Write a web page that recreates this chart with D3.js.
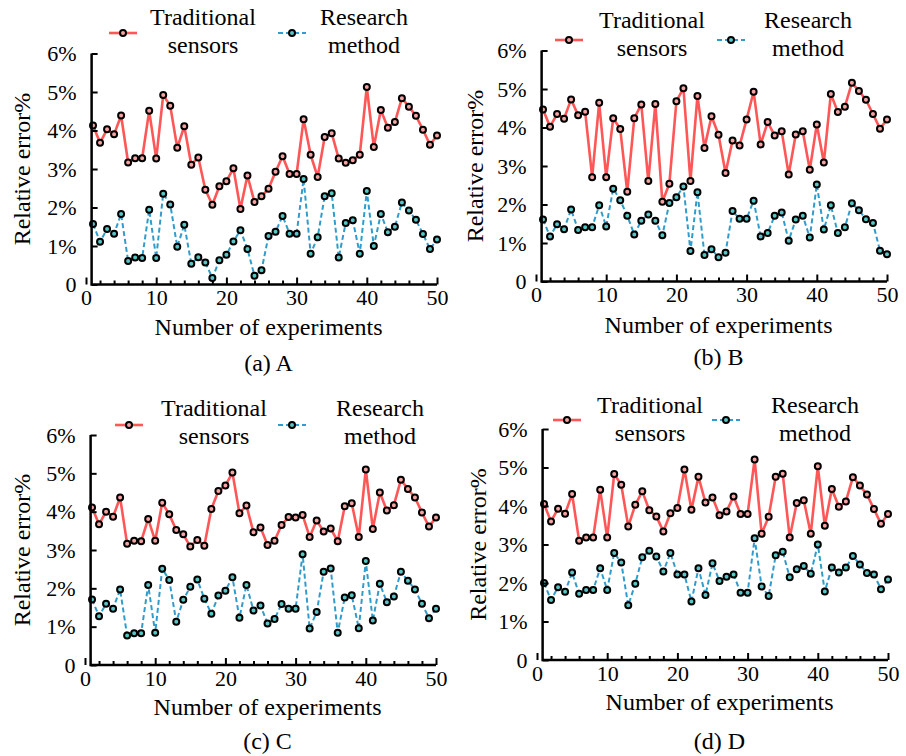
<!DOCTYPE html>
<html>
<head>
<meta charset="utf-8">
<script src="https://cdn.jsdelivr.net/npm/d3@7"></script>
<style>
  body { margin: 0; background: #fff; }
</style>
</head>
<body>
<div id="chart"></div>
<script>
// Experiment numbers and axis ticks
const experiments = d3.range(1, 51);
const xTickValues = [0, 10, 20, 30, 40, 50];
const xMinorTicks = [2, 4, 6, 8, 12, 14, 16, 18, 22, 24, 26, 28, 32, 34, 36, 38, 42, 44, 46, 48];
const yTickValues = [0, 1, 2, 3, 4, 5, 6];
const yTickLabels = ["0", "1%", "2%", "3%", "4%", "5%", "6%"];
const legendLines = [["Traditional", "sensors"], ["Research", "method"]];
const captions = ["(a) A", "(b) B", "(c) C", "(d) D"];

// Relative error (%)
const traditionalA = [4.13, 3.68, 4.03, 3.90, 4.39, 3.17, 3.28, 3.28, 4.51, 3.27, 4.92, 4.64, 3.55, 4.11, 3.11, 3.30, 2.46, 2.07, 2.55, 2.68,
  3.02, 1.96, 2.83, 2.14, 2.29, 2.49, 2.93, 3.33, 2.87, 2.87, 4.29, 3.37, 2.79, 3.83, 3.93, 3.27, 3.16, 3.23, 3.37, 5.13,
  3.57, 4.53, 4.07, 4.22, 4.84, 4.62, 4.38, 4.02, 3.63, 3.87];
const researchA = [1.57, 1.11, 1.44, 1.32, 1.83, 0.61, 0.70, 0.69, 1.94, 0.69, 2.36, 2.08, 0.98, 1.55, 0.54, 0.71, 0.57, 0.17, 0.63, 0.77,
  1.12, 1.41, 0.92, 0.23, 0.37, 1.26, 1.37, 1.78, 1.32, 1.32, 2.74, 0.80, 1.23, 2.29, 2.37, 0.70, 1.60, 1.67, 0.80, 2.43,
  1.00, 1.83, 1.36, 1.50, 2.13, 1.92, 1.68, 1.31, 0.92, 1.17];

const traditionalB = [4.47, 4.02, 4.35, 4.23, 4.73, 4.32, 4.41, 2.71, 4.64, 2.71, 4.24, 3.96, 2.33, 4.24, 4.60, 2.61, 4.61, 2.07, 2.54, 4.68,
  5.02, 2.61, 4.82, 3.47, 4.29, 3.81, 2.82, 3.66, 3.53, 4.21, 4.93, 3.56, 4.14, 3.79, 3.90, 2.78, 3.82, 3.90, 2.90, 4.08,
  3.09, 4.87, 4.40, 4.54, 5.16, 4.95, 4.72, 4.35, 3.97, 4.21];
const researchB = [1.61, 1.17, 1.49, 1.36, 1.87, 1.34, 1.41, 1.41, 1.98, 1.43, 2.41, 2.11, 1.71, 1.22, 1.58, 1.74, 1.58, 1.20, 2.04, 2.19,
  2.47, 0.79, 2.32, 0.69, 0.84, 0.63, 0.75, 1.83, 1.63, 1.63, 2.10, 1.17, 1.26, 1.71, 1.79, 1.06, 1.61, 1.71, 1.14, 2.52,
  1.35, 1.98, 1.26, 1.41, 2.03, 1.85, 1.62, 1.52, 0.80, 0.71];

const traditionalC = [4.11, 3.67, 4.00, 3.87, 4.37, 3.16, 3.24, 3.23, 3.81, 3.24, 4.23, 3.93, 3.52, 3.41, 3.09, 3.26, 3.11, 4.07, 4.54, 4.68,
  5.02, 3.96, 4.16, 3.46, 3.59, 3.13, 3.24, 3.65, 3.86, 3.85, 3.91, 3.34, 3.77, 3.48, 3.56, 3.23, 4.14, 4.22, 3.34, 5.10,
  3.55, 4.50, 4.03, 4.17, 4.83, 4.59, 4.37, 3.98, 3.61, 3.85];
const researchC = [1.71, 1.27, 1.60, 1.47, 1.97, 0.77, 0.83, 0.83, 2.09, 0.84, 2.51, 2.22, 1.13, 1.70, 2.04, 2.23, 1.73, 1.34, 1.81, 1.94,
  2.29, 1.23, 2.09, 1.42, 1.55, 1.08, 1.20, 1.59, 1.47, 1.47, 2.89, 0.95, 1.38, 2.43, 2.52, 0.84, 1.76, 1.82, 0.96, 2.71,
  1.16, 2.12, 1.64, 1.79, 2.43, 2.20, 1.97, 1.60, 1.22, 1.47];

const traditionalD = [4.05, 3.60, 3.93, 3.80, 4.31, 3.10, 3.18, 3.18, 4.42, 3.18, 4.83, 4.55, 3.47, 4.03, 4.38, 3.89, 3.73, 3.34, 3.81, 3.95,
  4.95, 3.90, 4.76, 4.09, 4.22, 3.76, 3.86, 4.25, 3.79, 3.79, 5.21, 3.28, 3.72, 4.76, 4.84, 3.18, 4.08, 4.15, 3.28, 5.03,
  3.49, 4.44, 3.98, 4.12, 4.75, 4.53, 4.30, 3.92, 3.54, 3.79];
const researchD = [2.00, 1.56, 1.89, 1.77, 2.27, 1.72, 1.82, 1.82, 2.38, 1.82, 2.78, 2.53, 1.42, 1.98, 2.67, 2.84, 2.69, 2.30, 2.78, 2.22,
  2.22, 1.52, 2.38, 1.69, 2.51, 2.05, 2.16, 2.22, 1.75, 1.75, 3.16, 1.91, 1.66, 2.72, 2.81, 2.15, 2.36, 2.44, 2.24, 3.00,
  1.78, 2.40, 2.27, 2.40, 2.70, 2.48, 2.26, 2.22, 1.84, 2.09];

// Colours and font
const redLine = "#ff5757", redFill = "#f7a3a3";
const blueLine = "#2f9ccb", blueFill = "#56c6c6";
const serif = "'Liberation Serif', 'Times New Roman', Times, serif";

// Panel layout (pixel positions of each subplot)
const panels = [
  {trad: traditionalA, res: researchA, caption: captions[0], x0: 86, x1: 437, yb: 284.5, yt: 53.5,
   yTitleX: 22, xTitleY: 335, captionY: 371, legY: 33, legTextY: 17, redX: 123, redTextX: 203, blueX: 292, blueTextX: 364},
  {trad: traditionalB, res: researchB, caption: captions[1], x0: 536, x1: 887, yb: 281.5, yt: 50.5,
   yTitleX: 475, xTitleY: 333, captionY: 365, legY: 40, legTextY: 20, redX: 569, redTextX: 652, blueX: 731, blueTextX: 808},
  {trad: traditionalC, res: researchC, caption: captions[2], x0: 85, x1: 436, yb: 665, yt: 435,
   yTitleX: 22, xTitleY: 715, captionY: 749, legY: 425, legTextY: 408, redX: 129, redTextX: 214, blueX: 292, blueTextX: 380},
  {trad: traditionalD, res: researchD, caption: captions[3], x0: 537, x1: 888, yb: 660, yt: 429,
   yTitleX: 478, xTitleY: 710, captionY: 749, legY: 420, legTextY: 405, redX: 567, redTextX: 650, blueX: 726, blueTextX: 815}
];

const svg = d3.select("#chart")
    .append("svg")
    .attr("width", 906)
    .attr("height", 756);

panels.forEach(p => {
    const x = d3.scaleLinear().domain([0, 50]).range([p.x0, p.x1]);
    const y = d3.scaleLinear().domain([0, 6]).range([p.yb, p.yt]);
    const axisX = x(0.8);
    const g = svg.append("g");

    // Lines
    const line = d3.line().x((d, i) => x(experiments[i])).y(d => y(d));
    g.append("path")
        .datum(p.trad)
        .attr("d", line)
        .attr("fill", "none")
        .attr("stroke", redLine)
        .attr("stroke-width", 2.6)
        .attr("stroke-linejoin", "round");
    g.append("path")
        .datum(p.res)
        .attr("d", line)
        .attr("fill", "none")
        .attr("stroke", blueLine)
        .attr("stroke-width", 2)
        .attr("stroke-dasharray", "5,3");

    // Markers
    g.selectAll(".dotTrad")
        .data(p.trad)
        .enter().append("circle")
        .attr("cx", (d, i) => x(experiments[i]))
        .attr("cy", d => y(d))
        .attr("r", 3)
        .attr("fill", redFill)
        .attr("stroke", "#000")
        .attr("stroke-width", 2);
    g.selectAll(".dotRes")
        .data(p.res)
        .enter().append("circle")
        .attr("cx", (d, i) => x(experiments[i]))
        .attr("cy", d => y(d))
        .attr("r", 3)
        .attr("fill", blueFill)
        .attr("stroke", "#000")
        .attr("stroke-width", 2);

    // Axes (ticks point inward)
    const xAxis = g.append("g")
        .attr("transform", "translate(0," + y(0) + ")")
        .call(d3.axisBottom(x).tickValues(xTickValues).tickSize(-7).tickPadding(5));
    xAxis.attr("font-family", null);
    xAxis.select(".domain").remove();
    xAxis.selectAll("text").style("font-family", serif).style("font-size", "22px").attr("dy", "0.71em");
    xAxis.selectAll("line").attr("stroke-width", 2);

    const xMinor = g.append("g")
        .attr("transform", "translate(0," + y(0) + ")")
        .call(d3.axisBottom(x).tickValues(xMinorTicks).tickSize(-4).tickFormat(""));
    xMinor.select(".domain").remove();
    xMinor.selectAll("line").attr("stroke-width", 2);

    const yAxis = g.append("g")
        .attr("transform", "translate(" + axisX + ",0)")
        .call(d3.axisLeft(y).tickValues(yTickValues).tickSize(-6).tickPadding(15)
            .tickFormat((d, i) => yTickLabels[i]));
    yAxis.attr("font-family", null);
    yAxis.select(".domain").remove();
    yAxis.selectAll("text").style("font-family", serif).style("font-size", "22px");
    yAxis.selectAll("line").attr("stroke-width", 2);

    g.append("path")
        .attr("d", "M" + axisX + "," + y(6) + "V" + y(0) + "H" + x(50))
        .attr("fill", "none")
        .attr("stroke", "#000")
        .attr("stroke-width", 2.5);

    // Titles
    g.append("text")
        .attr("transform", "translate(" + p.yTitleX + "," + (y(3)) + ") rotate(-90)")
        .attr("text-anchor", "middle")
        .attr("dy", "0.35em")
        .style("font-family", serif)
        .style("font-size", "24px")
        .text("Relative error%");
    g.append("text")
        .attr("x", x(26))
        .attr("y", p.xTitleY)
        .attr("text-anchor", "middle")
        .style("font-family", serif)
        .style("font-size", "24px")
        .text("Number of experiments");
    g.append("text")
        .attr("x", x(26))
        .attr("y", p.captionY)
        .attr("text-anchor", "middle")
        .style("font-family", serif)
        .style("font-size", "24px")
        .text(p.caption);

    // Legend
    const legend = [
        {cx: p.redX, tx: p.redTextX, stroke: redLine, fill: redFill, dash: null, w: 2.6, lines: legendLines[0]},
        {cx: p.blueX, tx: p.blueTextX, stroke: blueLine, fill: blueFill, dash: "5,3", w: 2, lines: legendLines[1]}
    ];
    legend.forEach(l => {
        g.append("line")
            .attr("x1", l.cx - 14).attr("x2", l.cx + 14)
            .attr("y1", p.legY).attr("y2", p.legY)
            .attr("stroke", l.stroke)
            .attr("stroke-width", l.w)
            .attr("stroke-dasharray", l.dash);
        g.append("circle")
            .attr("cx", l.cx).attr("cy", p.legY).attr("r", 3)
            .attr("fill", l.fill).attr("stroke", "#000").attr("stroke-width", 2);
        l.lines.forEach((t, k) => {
            g.append("text")
                .attr("x", l.tx)
                .attr("y", p.legTextY + k * 28)
                .attr("dy", "0.35em")
                .attr("text-anchor", "middle")
                .style("font-family", serif)
                .style("font-size", "24px")
                .text(t);
        });
    });
});
</script>
</body>
</html>
